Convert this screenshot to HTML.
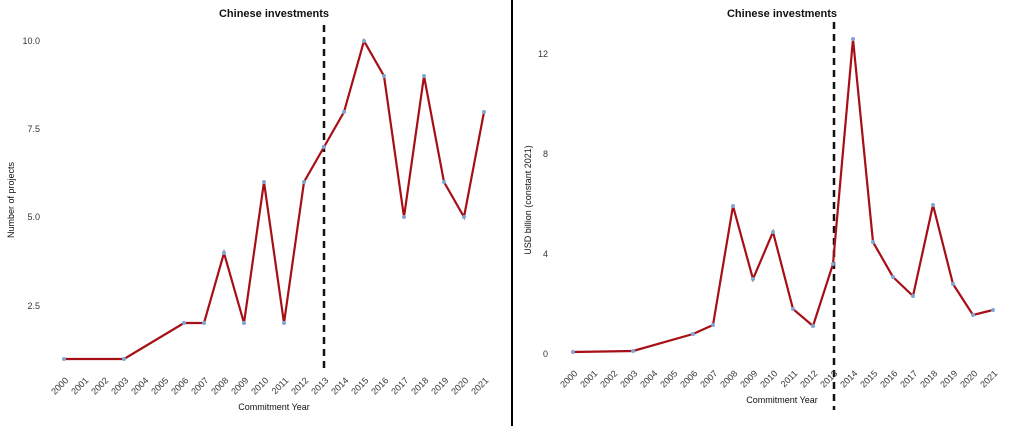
<!DOCTYPE html>
<html><head><style>body{margin:0;background:#fff}</style></head><body>
<svg width="1024" height="426" xmlns="http://www.w3.org/2000/svg" font-family="Liberation Sans, sans-serif">
<rect width="1024" height="426" fill="#fff"/>
<line x1="512" y1="0" x2="512" y2="426" stroke="#000" stroke-width="2"/>
<text x="274" y="17" font-size="11" font-weight="bold" text-anchor="middle" fill="#111">Chinese investments</text>
<g font-size="9" fill="#333" text-anchor="end">
<text x="40" y="44">10.0</text><text x="40" y="132">7.5</text><text x="40" y="220">5.0</text><text x="40" y="309">2.5</text>
</g>
<text transform="translate(14,200) rotate(-90)" font-size="9" text-anchor="middle" fill="#111">Number of projects</text>
<line x1="324" y1="25" x2="324" y2="372" stroke="#111" stroke-width="2.5" stroke-dasharray="7,5"/>
<polyline fill="none" stroke="#a50f15" stroke-width="2.2" points="64,359 124,359 124,359 184,323 204,323 224,253 244,323 264,182 284,323 304,182 324,147 344,112 364,41 384,76 404,217 424,76 444,182 464,217 484,112"/>
<g fill="#7ea6d6">
<circle cx="64" cy="359" r="2"/><circle cx="124" cy="359" r="2"/><circle cx="184" cy="323" r="2"/><circle cx="204" cy="323" r="2"/><circle cx="224" cy="253" r="2"/><circle cx="244" cy="323" r="2"/><circle cx="264" cy="182" r="2"/><circle cx="284" cy="323" r="2"/><circle cx="304" cy="182" r="2"/><circle cx="324" cy="147" r="2"/><circle cx="344" cy="112" r="2"/><circle cx="364" cy="41" r="2"/><circle cx="384" cy="76" r="2"/><circle cx="404" cy="217" r="2"/><circle cx="424" cy="76" r="2"/><circle cx="444" cy="182" r="2"/><circle cx="464" cy="217" r="2"/><circle cx="484" cy="112" r="2"/>
</g>
<text x="274" y="410" font-size="9" text-anchor="middle" fill="#111">Commitment Year</text>
<text x="782" y="17" font-size="11" font-weight="bold" text-anchor="middle" fill="#111">Chinese investments</text>
<g font-size="9" fill="#333" text-anchor="end">
<text x="548" y="57">12</text><text x="548" y="157">8</text><text x="548" y="257">4</text><text x="548" y="357">0</text>
</g>
<text transform="translate(531,200) rotate(-90)" font-size="9" text-anchor="middle" fill="#111">USD billion (constant 2021)</text>
<line x1="834" y1="22" x2="834" y2="410" stroke="#111" stroke-width="2.5" stroke-dasharray="7,5"/>
<polyline fill="none" stroke="#a50f15" stroke-width="2.2" points="573,352 633,351 693,334 713,325 733,206 753,279 773,232 793,309 813,326 833,264 853,39 873,242 893,277 913,296 933,205 953,284 973,315 993,310"/>
<g fill="#7ea6d6">
<circle cx="573" cy="352" r="2"/><circle cx="633" cy="351" r="2"/><circle cx="693" cy="334" r="2"/><circle cx="713" cy="325" r="2"/><circle cx="733" cy="206" r="2"/><circle cx="753" cy="279" r="2"/><circle cx="773" cy="232" r="2"/><circle cx="793" cy="309" r="2"/><circle cx="813" cy="326" r="2"/><circle cx="833" cy="264" r="2"/><circle cx="853" cy="39" r="2"/><circle cx="873" cy="242" r="2"/><circle cx="893" cy="277" r="2"/><circle cx="913" cy="296" r="2"/><circle cx="933" cy="205" r="2"/><circle cx="953" cy="284" r="2"/><circle cx="973" cy="315" r="2"/><circle cx="993" cy="310" r="2"/>
</g>
<text x="782" y="403" font-size="9" text-anchor="middle" fill="#111">Commitment Year</text>
<g font-size="9" fill="#333" text-anchor="end">
<text transform="translate(69,381) rotate(-45)">2000</text><text transform="translate(89,381) rotate(-45)">2001</text><text transform="translate(109,381) rotate(-45)">2002</text><text transform="translate(129,381) rotate(-45)">2003</text><text transform="translate(149,381) rotate(-45)">2004</text><text transform="translate(169,381) rotate(-45)">2005</text><text transform="translate(189,381) rotate(-45)">2006</text><text transform="translate(209,381) rotate(-45)">2007</text><text transform="translate(229,381) rotate(-45)">2008</text><text transform="translate(249,381) rotate(-45)">2009</text><text transform="translate(269,381) rotate(-45)">2010</text><text transform="translate(289,381) rotate(-45)">2011</text><text transform="translate(309,381) rotate(-45)">2012</text><text transform="translate(329,381) rotate(-45)">2013</text><text transform="translate(349,381) rotate(-45)">2014</text><text transform="translate(369,381) rotate(-45)">2015</text><text transform="translate(389,381) rotate(-45)">2016</text><text transform="translate(409,381) rotate(-45)">2017</text><text transform="translate(429,381) rotate(-45)">2018</text><text transform="translate(449,381) rotate(-45)">2019</text><text transform="translate(469,381) rotate(-45)">2020</text><text transform="translate(489,381) rotate(-45)">2021</text>
<text transform="translate(578,374) rotate(-45)">2000</text><text transform="translate(598,374) rotate(-45)">2001</text><text transform="translate(618,374) rotate(-45)">2002</text><text transform="translate(638,374) rotate(-45)">2003</text><text transform="translate(658,374) rotate(-45)">2004</text><text transform="translate(678,374) rotate(-45)">2005</text><text transform="translate(698,374) rotate(-45)">2006</text><text transform="translate(718,374) rotate(-45)">2007</text><text transform="translate(738,374) rotate(-45)">2008</text><text transform="translate(758,374) rotate(-45)">2009</text><text transform="translate(778,374) rotate(-45)">2010</text><text transform="translate(798,374) rotate(-45)">2011</text><text transform="translate(818,374) rotate(-45)">2012</text><text transform="translate(838,374) rotate(-45)">2013</text><text transform="translate(858,374) rotate(-45)">2014</text><text transform="translate(878,374) rotate(-45)">2015</text><text transform="translate(898,374) rotate(-45)">2016</text><text transform="translate(918,374) rotate(-45)">2017</text><text transform="translate(938,374) rotate(-45)">2018</text><text transform="translate(958,374) rotate(-45)">2019</text><text transform="translate(978,374) rotate(-45)">2020</text><text transform="translate(998,374) rotate(-45)">2021</text>
</g>
</svg>
</body></html>
